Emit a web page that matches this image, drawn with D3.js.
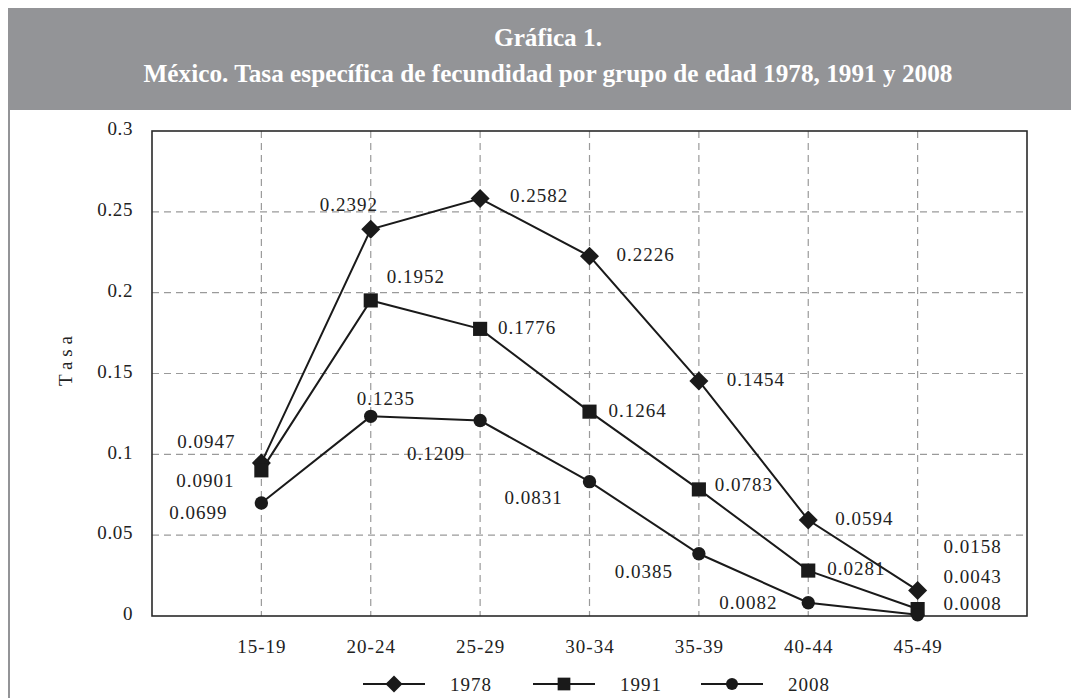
<!DOCTYPE html>
<html>
<head>
<meta charset="utf-8">
<script src="https://cdn.jsdelivr.net/npm/d3@7"></script>
<style>
  html, body { margin: 0; padding: 0; background: #ffffff; }
  svg { display: block; }
</style>
</head>
<body>
<svg id="chart" width="1071" height="698"></svg>
<script>
// ---------------- data ----------------
const titleLine1 = "Gráfica 1.";
const titleLine2 = "México. Tasa específica de fecundidad por grupo de edad 1978, 1991 y 2008";
const yAxisTitle = "T a s a";
const categories = ["15-19", "20-24", "25-29", "30-34", "35-39", "40-44", "45-49"];
const seriesNames = ["1978", "1991", "2008"];
const values1978 = [0.0947, 0.2392, 0.2582, 0.2226, 0.1454, 0.0594, 0.0158];
const values1991 = [0.0901, 0.1952, 0.1776, 0.1264, 0.0783, 0.0281, 0.0043];
const values2008 = [0.0699, 0.1235, 0.1209, 0.0831, 0.0385, 0.0082, 0.0008];
const yTicks = [0, 0.05, 0.1, 0.15, 0.2, 0.25, 0.3];

// ---------------- layout (not data) ----------------
const W = 1071, H = 698;
const plot = { left: 152, top: 131, right: 1027, bottom: 616 };
const FONT = "'Liberation Serif', 'Times New Roman', serif";
const HEADER_GRAY = "#939497";

// label offsets (dx, dy of label centre relative to marker), per series
const labelOffsets = [
  [[-55,-22],[-22,-25],[59,-3],[56,-2],[57,-2],[56,-2],[55,-44]],
  [[-56,10],[45,-24],[47,-2],[48,-1],[45,-5],[48,-2],[55,-33]],
  [[-63,9],[15,-18],[-44,33],[-56,16],[-55,18],[-60,0],[55,-11]]
];

const series = [
  { name: seriesNames[0], values: values1978, shape: "diamond" },
  { name: seriesNames[1], values: values1991, shape: "square" },
  { name: seriesNames[2], values: values2008, shape: "circle" }
];

const svg = d3.select("#chart");

svg.append("rect").attr("x", 0).attr("y", 0).attr("width", W).attr("height", H).attr("fill", "#fff");

// header band
svg.append("rect").attr("x", 8).attr("y", 8).attr("width", W - 8).attr("height", 102).attr("fill", HEADER_GRAY);
// left frame line
svg.append("rect").attr("x", 8).attr("y", 110).attr("width", 2).attr("height", H - 110).attr("fill", HEADER_GRAY);

// title
const titleCx = 548;
svg.append("text")
  .attr("x", titleCx).attr("y", 82)
  .attr("text-anchor", "middle")
  .attr("fill", "#fff")
  .attr("font-family", FONT)
  .attr("font-weight", "bold")
  .attr("font-size", 25)
  .attr("textLength", 809)
  .attr("lengthAdjust", "spacingAndGlyphs")
  .text(titleLine2);
svg.append("text")
  .attr("x", titleCx).attr("y", 46)
  .attr("text-anchor", "middle")
  .attr("fill", "#fff")
  .attr("font-family", FONT)
  .attr("font-weight", "bold")
  .attr("font-size", 25)
  .attr("textLength", 108)
  .attr("lengthAdjust", "spacingAndGlyphs")
  .text(titleLine1);

// scales
const x = d3.scalePoint().domain(categories).range([plot.left, plot.right]).padding(1);
const y = d3.scaleLinear().domain([0, 0.3]).range([plot.bottom, plot.top]);

// grid lines
const grid = svg.append("g");
grid.selectAll("line.h").data(yTicks.filter(t => t > 0 && t < 0.3)).enter().append("line")
  .attr("x1", plot.left).attr("x2", plot.right)
  .attr("y1", d => y(d)).attr("y2", d => y(d))
  .attr("stroke", "#9a9a9a").attr("stroke-width", 1.2).attr("stroke-dasharray", "7,5");
grid.selectAll("line.v").data(categories).enter().append("line")
  .attr("x1", d => x(d)).attr("x2", d => x(d))
  .attr("y1", plot.top).attr("y2", plot.bottom)
  .attr("stroke", "#9a9a9a").attr("stroke-width", 1.2).attr("stroke-dasharray", "7,5");

// plot border
svg.append("rect")
  .attr("x", plot.left).attr("y", plot.top)
  .attr("width", plot.right - plot.left).attr("height", plot.bottom - plot.top)
  .attr("fill", "none").attr("stroke", "#2a2a2a").attr("stroke-width", 1.6);

// y axis (labels only)
const yAxis = d3.axisLeft(y).tickValues(yTicks).tickSize(0).tickPadding(0).tickFormat(d => String(d));
const yg = svg.append("g").attr("transform", `translate(${plot.left - 19},0)`).call(yAxis);
yg.select(".domain").remove();
yg.selectAll("text")
  .attr("font-family", FONT).attr("font-size", 19).attr("fill", "#222")
  .attr("letter-spacing", "0.6px")
  .attr("dy", "0.2em");

// x axis (labels only)
const xAxis = d3.axisBottom(x).tickSize(0).tickPadding(0);
const xg = svg.append("g").attr("transform", `translate(0,${plot.bottom})`).call(xAxis);
xg.select(".domain").remove();
xg.selectAll("text")
  .attr("font-family", FONT).attr("font-size", 19).attr("fill", "#222")
  .attr("letter-spacing", "1px")
  .attr("y", 37).attr("dy", 0);

// y axis title
svg.append("text")
  .attr("transform", "translate(72,361) rotate(-90)")
  .attr("text-anchor", "middle")
  .attr("font-family", FONT).attr("font-size", 19).attr("fill", "#222")
  .text(yAxisTitle);

function symbolPath(shape, scale) {
  const s = scale || 1;
  if (shape === "diamond") return d3.symbol().type(d3.symbolSquare).size(180 * s * s)();
  if (shape === "square") return d3.symbol().type(d3.symbolSquare).size(200 * s * s)();
  return d3.symbol().type(d3.symbolCircle).size(140 * s * s)();
}

const line = d3.line().x((d, i) => x(categories[i])).y(d => y(d));

series.forEach((s, si) => {
  const g = svg.append("g");
  g.append("path").datum(s.values)
    .attr("d", line)
    .attr("fill", "none").attr("stroke", "#1a1a1a").attr("stroke-width", 2);
  g.selectAll("path.m").data(s.values).enter().append("path")
    .attr("d", symbolPath(s.shape))
    .attr("transform", (d, i) => `translate(${x(categories[i])},${y(d)})` + (s.shape === "diamond" ? " rotate(45)" : ""))
    .attr("fill", "#1a1a1a");
  g.selectAll("text").data(s.values).enter().append("text")
    .attr("x", (d, i) => x(categories[i]) + labelOffsets[si][i][0])
    .attr("y", (d, i) => y(d) + labelOffsets[si][i][1])
    .attr("dy", "0.35em")
    .attr("text-anchor", "middle")
    .attr("font-family", FONT).attr("font-size", 19).attr("fill", "#222")
    .attr("letter-spacing", "1px")
    .text(d => d);
});

// legend
const legendY = 684;
const legendCenters = [394, 564, 732];
series.forEach((s, si) => {
  const cx = legendCenters[si];
  const g = svg.append("g");
  g.append("line").attr("x1", cx - 31).attr("x2", cx + 31).attr("y1", legendY).attr("y2", legendY)
    .attr("stroke", "#1a1a1a").attr("stroke-width", 2);
  g.append("path").attr("d", symbolPath(s.shape, 0.9))
    .attr("transform", `translate(${cx},${legendY})` + (s.shape === "diamond" ? " rotate(45)" : ""))
    .attr("fill", "#1a1a1a");
  g.append("text").attr("x", cx + 56).attr("y", legendY).attr("dy", "0.35em")
    .attr("font-family", FONT).attr("font-size", 19).attr("fill", "#222")
    .attr("letter-spacing", "1px")
    .text(s.name);
});
</script>
</body>
</html>
